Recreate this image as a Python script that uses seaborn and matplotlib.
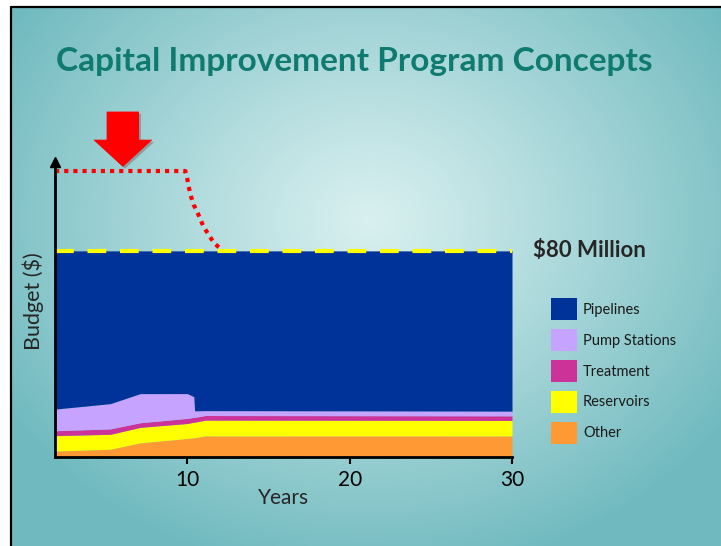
import numpy as np
import matplotlib
matplotlib.use("Agg")
import matplotlib.pyplot as plt
import matplotlib.patheffects as pe
from matplotlib.patches import Patch, FancyArrow
from matplotlib.lines import Line2D
import seaborn as sns

# values (budget in $M, stacked from the bottom)
years = [1.85, 5.25, 7.1, 10.0, 10.4, 10.45, 11.1, 30]
other = [2.3, 3.0, 5.5, 7.2, 7.5, 7.5, 8.2, 8.2]
reservoirs = [6.0, 5.8, 6.0, 5.8, 6.0, 6.0, 6.1, 6.0]
treatment = [1.9, 2.1, 1.8, 2.0, 1.9, 1.9, 1.8, 1.8]
pump_stations = [8.4, 9.8, 11.3, 9.6, 8.0, 2.5, 1.9, 1.8]
pipelines = [61.4, 59.3, 55.4, 55.4, 56.6, 62.1, 62.0, 62.2]

categories = ["Other", "Reservoirs", "Treatment", "Pump Stations", "Pipelines"]
colors = ["#FF9933", "#FFFF00", "#CC3399", "#C5A3FF", "#003399"]

budget_cap = 80
# earlier (unconstrained) budget, dotted red
prior_x = [1.85, 9.88, 9.98, 10.08, 10.23, 10.39, 10.6, 10.8, 11.0, 11.32, 11.63, 12.04]
prior_y = [111, 111, 108.7, 105.0, 101.1, 97.9, 95.3, 92.3, 89.4, 86.2, 83.2, 80.8]

sns.set_style("ticks")
plt.rcParams["font.family"] = ["Lato", "DejaVu Sans"]

W, H = 721, 546
fig = plt.figure(figsize=(W / 100, H / 100), dpi=100, facecolor="white")

# slide background: radial teal gradient
bg = fig.add_axes([12 / W, 0, 1 - 12 / W, 1 - 8 / H])
gx, gy = np.meshgrid(np.linspace(12, W, 300), np.linspace(8, H, 240))
r = np.sqrt(((gx - 370) / 430) ** 2 + ((gy - 220) / 360) ** 2)
t = np.clip(r, 0, 1) ** 1.1
light = np.array([0.85, 0.94, 0.94])
dark = np.array([0.44, 0.73, 0.75])
img = light[None, None, :] * (1 - t[..., None]) + dark[None, None, :] * t[..., None]
bg.imshow(img, aspect="auto", extent=[0, 1, 0, 1], origin="upper")
bg.axis("off")
fig.add_artist(Line2D([11 / W, 11 / W], [0, 1 - 6.5 / H], color="black", lw=1.6))
fig.add_artist(Line2D([11 / W, 1], [1 - 6.5 / H, 1 - 6.5 / H], color="black", lw=1.6))

# chart area
ax = fig.add_axes([55 / W, (H - 457) / H, (512 - 55) / W, (457 - 162) / H])
ax.patch.set_alpha(0)
ax.stackplot(years, other, reservoirs, treatment, pump_stations, pipelines,
             colors=colors, linewidth=0)
ax.set_xlim(1.85, 30)
ax.set_ylim(0, 114.5)

sns.lineplot(x=[years[0], years[-1]], y=[budget_cap, budget_cap], ax=ax,
             color="#FFFF00", lw=3, linestyle=(0, (4.5, 3.3)),
             dash_capstyle="butt", clip_on=False)
sns.lineplot(x=prior_x, y=prior_y, ax=ax, sort=False, color="#FF0000", lw=3,
             linestyle=(0, (1, 1.2)), dash_capstyle="butt", clip_on=False)

arrow = FancyArrow(6.03, 134.0, 0, -21.3, width=1.98, head_width=3.6,
                   head_length=10.4, length_includes_head=True,
                   color="#FF0000", lw=0, clip_on=False)
arrow.set_path_effects([pe.withSimplePatchShadow(offset=(1.5, -1.5), alpha=0.25),
                        pe.Normal()])
ax.add_patch(arrow)

sns.despine(ax=ax)
for s in ("left", "bottom"):
    ax.spines[s].set_linewidth(2)
    ax.spines[s].set_color("black")
ax.plot(0, 1, marker="^", color="black", markersize=7,
        transform=ax.transAxes, clip_on=False)
ax.set_yticks([])
ax.set_xticks([10, 20, 30])
ax.tick_params(axis="x", length=5, width=1.5, labelsize=15, colors="black", pad=4)
ax.set_xlabel("Years", fontsize=15, labelpad=-1)
ax.set_ylabel("Budget ($)", fontsize=15.5)
ax.yaxis.set_label_coords(-0.024, 0.53)

ax.text(1.045, budget_cap, "$80 Million", transform=ax.get_yaxis_transform(),
        fontsize=16, fontweight="bold", va="center", ha="left")

fig.text(354 / W, 1 - 61 / H, "Capital Improvement Program Concepts",
         fontsize=24, fontweight="bold", color="#0F7A70", ha="center", va="center")

handles = [Patch(facecolor=c, edgecolor="none", label=l)
           for c, l in zip(colors, categories)][::-1]
fig.legend(handles=handles, loc="upper left",
           bbox_to_anchor=(551 / W, 1 - 298 / H), frameon=False,
           fontsize=10.5, handlelength=1.75, handleheight=1.96,
           labelspacing=0.6, handletextpad=0.45, borderpad=0, borderaxespad=0,
           labelcolor="#1a1a1a")

fig.savefig("out.png", dpi=100, facecolor=fig.get_facecolor())
